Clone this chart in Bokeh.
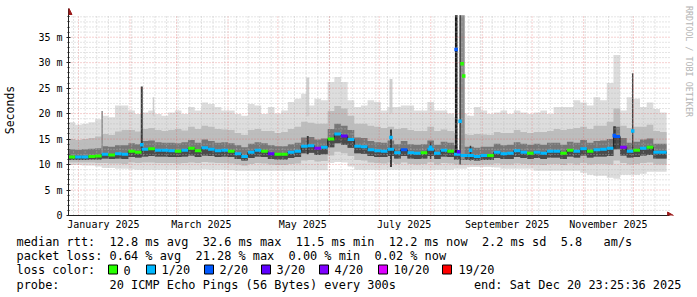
import math
import re
import pandas as pd
from bokeh.plotting import figure
from bokeh.layouts import column
from bokeh.models import (Range1d, FixedTicker, DatetimeTickFormatter,
                          PolyAnnotation, ColumnDataSource)
from bokeh.core.properties import value
from bokeh.embed import file_html
from bokeh.resources import INLINE

# ---------------- data ----------------
END_TIME = "2025-12-20 23:25:36"
SPAN_DAYS = 360
STEP_DAYS = 4
Y_TOP = 39.26  # ms at top of the drawing area

rtt_median = [11.5, 11.5, 11.5, 11.6, 11.7, 12.0, 11.9, 12.1, 12.0, 12.6,
              12.4, 13.0, 13.1, 12.8, 12.8, 12.7, 12.6, 12.8, 13.2, 12.7,
              13.3, 13.0, 12.7, 12.8, 12.6, 12.1, 11.6, 12.4, 12.8, 12.6,
              12.1, 12.0, 12.0, 12.4, 12.6, 13.6, 13.7, 13.2, 13.4, 15.0,
              16.0, 15.6, 14.9, 13.6, 13.5, 12.9, 12.7, 12.6, 13.0, 12.3,
              12.9, 12.3, 12.2, 12.3, 13.0, 12.2, 12.8, 12.6, 12.0, 11.8,
              11.8, 11.6, 11.8, 11.8, 12.4, 12.1, 12.2, 12.7, 12.4, 12.2,
              12.4, 12.2, 12.6, 12.6, 12.2, 12.8, 12.6, 13.1, 12.6, 12.9,
              13.0, 13.2, 15.5, 13.4, 12.6, 12.8, 13.2, 13.4, 12.4, 12.4]

loss_level = [0, 1, 1, 0, 0, 1, 0, 1, 1, 0,
              0, 1, 0, 1, 1, 1, 0, 1, 0, 0,
              1, 1, 1, 1, 0, 1, 1, 1, 1, 0,
              3, 0, 0, 1, 1, 1, 1, 4, 1, 0,
              1, 3, 1, 1, 1, 1, 1, 1, 1, 1,
              2, 1, 1, 0, 1, 1, 1, 0, 1, 1,
              1, 1, 1, 0, 1, 1, 1, 1, 1, 0,
              1, 1, 1, 1, 0, 0, 1, 1, 0, 1,
              1, 1, 2, 4, 1, 0, 1, 0, 1, 1]

rtt_max = [18.3, 17.8, 18.0, 18.3, 18.9, 19.6, 19.3, 21.6, 21.6, 20.6,
           19.9, 20.2, 20.6, 19.9, 19.6, 20.2, 20.6, 19.9, 21.3, 20.6,
           22.2, 21.9, 21.3, 20.6, 20.6, 19.9, 19.6, 21.9, 21.6, 19.9,
           21.3, 20.0, 20.6, 22.3, 22.9, 23.9, 21.6, 22.9, 22.6, 26.2,
           27.2, 26.2, 22.6, 21.3, 21.6, 22.6, 22.3, 20.6, 21.3, 21.3,
           21.6, 21.6, 20.6, 20.6, 22.3, 20.6, 20.6, 20.0, 19.3, 20.0,
           19.6, 21.3, 20.6, 19.9, 20.2, 20.6, 19.9, 20.6, 20.2, 19.9,
           20.2, 20.6, 19.9, 21.3, 21.3, 21.3, 22.6, 22.2, 21.6, 23.2,
           22.6, 26.0, 31.5, 20.6, 23.2, 22.9, 21.3, 22.2, 20.9, 20.2]

rtt_p90 = [15.0, 14.8, 15.0, 15.2, 15.5, 16.0, 15.8, 16.5, 16.8, 16.8,
           16.5, 17.0, 17.2, 16.8, 16.6, 16.8, 17.0, 16.7, 17.4, 17.0,
           17.6, 17.4, 17.0, 16.9, 16.8, 16.2, 15.8, 16.8, 17.0, 16.6,
           16.6, 16.2, 16.4, 17.0, 17.4, 18.4, 18.2, 18.0, 18.0, 20.5,
           21.5, 21.0, 19.6, 18.0, 18.0, 17.6, 17.4, 17.2, 17.4, 17.0,
           17.2, 16.8, 16.6, 16.6, 17.4, 16.6, 16.9, 16.6, 16.2, 16.0,
           15.8, 16.0, 15.9, 15.8, 16.4, 16.2, 16.2, 16.8, 16.4, 16.2,
           16.4, 16.4, 16.6, 17.0, 16.8, 17.0, 17.2, 17.4, 17.0, 17.6,
           17.6, 18.4, 21.0, 17.6, 17.2, 17.4, 17.4, 17.8, 16.6, 16.4]

rtt_p75 = [13.0, 12.9, 13.0, 13.1, 13.2, 13.6, 13.5, 13.8, 13.8, 14.2,
           14.0, 14.6, 14.7, 14.4, 14.3, 14.3, 14.2, 14.4, 14.8, 14.3,
           14.9, 14.6, 14.3, 14.4, 14.2, 13.8, 13.4, 14.1, 14.4, 14.2,
           13.8, 13.6, 13.6, 14.0, 14.3, 15.3, 15.4, 14.9, 15.1, 17.0,
           18.0, 17.6, 16.8, 15.3, 15.2, 14.6, 14.4, 14.3, 14.7, 14.0,
           14.6, 14.0, 13.9, 14.0, 14.7, 13.9, 14.5, 14.3, 13.8, 13.5,
           13.5, 13.3, 13.5, 13.5, 14.1, 13.8, 13.9, 14.4, 14.1, 13.9,
           14.1, 13.9, 14.3, 14.3, 13.9, 14.5, 14.3, 14.8, 14.3, 14.6,
           14.7, 15.0, 17.4, 15.2, 14.3, 14.5, 14.9, 15.1, 14.1, 14.1]

rtt_p25 = [10.9, 10.9, 10.9, 11.0, 11.0, 11.2, 11.1, 11.2, 11.1, 11.5,
           11.4, 11.6, 11.7, 11.6, 11.6, 11.5, 11.5, 11.6, 11.8, 11.5,
           11.8, 11.7, 11.5, 11.6, 11.5, 11.1, 10.8, 11.3, 11.6, 11.5,
           11.1, 11.0, 11.0, 11.3, 11.5, 12.2, 12.3, 11.9, 12.0, 13.4,
           14.2, 13.9, 13.3, 12.2, 12.1, 11.7, 11.5, 11.5, 11.7, 11.2,
           11.7, 11.2, 11.1, 11.2, 11.7, 11.1, 11.6, 11.5, 11.0, 10.9,
           10.9, 10.8, 10.9, 10.9, 11.3, 11.1, 11.1, 11.5, 11.3, 11.1,
           11.3, 11.1, 11.4, 11.4, 11.1, 11.6, 11.4, 11.8, 11.4, 11.6,
           11.6, 11.7, 13.0, 11.8, 11.4, 11.5, 11.8, 11.9, 11.2, 11.2]

rtt_p10 = [10.4, 10.4, 10.4, 10.4, 10.3, 10.3, 10.2, 10.2, 10.1, 10.4,
           10.3, 10.4, 10.4, 10.3, 10.3, 10.3, 10.2, 10.3, 10.4, 10.3,
           10.5, 10.4, 10.3, 10.3, 10.2, 10.0, 9.8, 10.1, 10.3, 10.2,
           10.0, 9.9, 9.9, 10.1, 10.2, 10.8, 10.9, 10.6, 10.7, 11.8,
           12.5, 12.2, 11.7, 10.9, 10.8, 10.4, 10.3, 10.2, 10.4, 10.1,
           10.4, 10.1, 10.0, 10.1, 10.4, 10.0, 10.3, 10.2, 10.0, 9.9,
           10.0, 9.9, 10.0, 10.0, 10.2, 10.0, 10.0, 10.2, 10.1, 10.0,
           10.0, 9.9, 10.1, 10.1, 9.9, 10.2, 10.0, 10.3, 10.0, 10.1,
           10.1, 10.0, 10.8, 10.3, 10.0, 10.1, 10.3, 10.4, 10.0, 10.0]

rtt_min = [9.9, 9.9, 9.8, 9.8, 9.6, 9.3, 9.3, 9.2, 9.2, 9.1,
           9.0, 9.0, 9.0, 9.0, 9.0, 9.0, 9.0, 9.0, 9.0, 9.0,
           9.1, 9.0, 9.0, 9.0, 8.9, 8.8, 8.8, 8.8, 8.8, 8.8,
           8.8, 8.8, 8.8, 8.8, 8.8, 8.9, 8.9, 8.9, 8.9, 10.3,
           10.5, 10.4, 9.6, 9.0, 9.0, 9.0, 9.0, 9.0, 9.0, 9.0,
           9.0, 9.0, 9.0, 9.0, 9.0, 9.0, 9.0, 9.0, 9.2, 9.2,
           9.5, 9.5, 9.5, 9.5, 9.4, 9.2, 9.2, 9.2, 9.2, 9.2,
           8.8, 8.8, 8.8, 8.8, 8.8, 8.8, 8.8, 8.4, 8.0, 7.8,
           7.8, 7.4, 7.2, 8.0, 8.0, 8.0, 8.2, 8.6, 8.6, 8.6]

# short bursts (days from the start of the graph)
burst_start = [19.8, 43.5, 50.7, 143.1, 143.4, 193.2, 193.5, 217.5, 232.6, 234.3, 235.4, 235.4, 241.5, 327.9, 339.2]
burst_end = [20.7, 44.7, 51.6, 144.9, 144.6, 195.0, 194.7, 218.4, 234.3, 235.4, 238.5, 236.0, 242.4, 329.4, 340.0]
burst_low = [12.0, 12.4, 19.5, 19.5, 12.0, 20.0, 9.5, 11.1, 11.8, 12.8, 11.0, 10.0, 10.8, 13.0, 12.1]
burst_high = [20.5, 25.3, 23.2, 27.1, 15.6, 26.8, 16.9, 14.4, 39.3, 39.3, 39.3, 39.3, 13.7, 17.5, 27.9]
burst_tone = ["mid", "dark", "light", "light", "dark", "light", "dark", "dark",
              "black", "gap", "mid", "black", "dark", "dark", "dark"]

mark_day = [44.1, 194.1, 217.9, 233.3, 234.8, 235.7, 236.9, 237.9, 242.0, 328.5, 339.6]
mark_rtt = [13.9, 15.3, 13.4, 32.6, 12.5, 18.5, 29.8, 27.4, 12.8, 15.7, 16.6]
mark_loss = [1, 1, 1, 2, 3, 1, 0, 0, 1, 2, 1]

loss_labels = ["0", "1/20", "2/20", "3/20", "4/20", "10/20", "19/20"]
loss_colors = ["#26ff00", "#00b8ff", "#0059ff", "#5e00ff", "#7e00ff", "#dd00ff", "#ff0000"]

ytick_values = [0, 5, 10, 15, 20, 25, 30, 35]
ytick_labels = ["0", "5 m", "10 m", "15 m", "20 m", "25 m", "30 m", "35 m"]
label_months = ["2025-01", "2025-03", "2025-05", "2025-07", "2025-09", "2025-11"]

stats_lines = [
    "median rtt:  12.8 ms avg  32.6 ms max  11.5 ms min  12.2 ms now  2.2 ms sd  5.8   am/s",
    "packet loss: 0.64 % avg  21.28 % max  0.00 % min  0.02 % now",
    "loss color:",
    "probe:       20 ICMP Echo Pings (56 Bytes) every 300s",
]
end_text = "end: Sat Dec 20 23:25:36 2025"
watermark = "RRDTOOL / TOBI OETIKER"

# ---------------- geometry / helpers ----------------
DAY_MS = 86_400_000
end_ms = pd.Timestamp(END_TIME).value // 1_000_000
start_ms = end_ms - SPAN_DAYS * DAY_MS


def tms(day):
    return start_ms + day * DAY_MS


W = 697
H_MAIN = 235
H_LEG = 62
FL, FR, FT, FB = 66, 697, 4, 215
PLOT_W, PLOT_H = 600, 200
x_per_px = SPAN_DAYS * DAY_MS / PLOT_W
y_per_px = Y_TOP / PLOT_H


def xpx(px):
    return start_ms + (px - FL) * x_per_px


def ypx(py):
    return (FB - py) * y_per_px


MONO = "DejaVu Sans Mono"
ARROW = "#9b1b1b"

p = figure(width=W, height=H_MAIN, x_axis_type="datetime",
           x_range=Range1d(start_ms, xpx(FR)), y_range=Range1d(0, ypx(FT)),
           output_backend="svg", toolbar_location=None,
           min_border_left=FL, min_border_right=W - FR,
           min_border_top=FT, min_border_bottom=H_MAIN - FB)
p.outline_line_color = None
p.background_fill_color = "white"
p.border_fill_color = "white"
p.xgrid.visible = False
p.ygrid.visible = False

# ---------------- smoke ----------------
n = len(rtt_median)
edges = [tms(i * STEP_DAYS) for i in range(n + 1)]


def ext(a):
    return list(a) + [a[-1]]


smoke = ColumnDataSource(dict(x=edges, mn=ext(rtt_min), mx=ext(rtt_max),
                              p10=ext(rtt_p10), p90=ext(rtt_p90),
                              p25=ext(rtt_p25), p75=ext(rtt_p75), med=ext(rtt_median)))
for lo, hi, col in [("mn", "mx", "#dddddd"), ("p10", "p90", "#bdbdbd"),
                    ("p25", "p75", "#777777"), ("p25", "med", "#4a4a4a")]:
    p.varea_step(x="x", y1=lo, y2=hi, step_mode="after", source=smoke,
                 fill_color=col, level="image")

tone_color = {"light": "#cfcfcf", "mid": "#8e8e8e", "dark": "#3a3a3a",
              "black": "#1a1a1a", "gap": "#ffffff"}
p.quad(left=[tms(d) for d in burst_start], right=[tms(d) for d in burst_end],
       bottom=burst_low, top=burst_high,
       fill_color=[tone_color[t] for t in burst_tone], line_color=None, level="image")

# ---------------- grid (dotted, limited to the graph area) ----------------
month_ticks = [pd.Timestamp(f"2025-{m:02d}-01").value // 1_000_000 for m in range(1, 13)]
week_ticks = [ts.value // 1_000_000 for ts in pd.date_range("2024-12-29", "2025-12-20", freq="7D")]
minor_y = [v for v in range(1, 40) if v % 5]
major_y = [v for v in range(5, 40, 5)]
GRID_TOP = Y_TOP + 0.2
GRID_RIGHT = xpx(669)

for ticks, col, alpha in [(week_ticks, "#b8b8b8", 0.75), (month_ticks, "#e06060", 0.6)]:
    p.segment(x0=ticks, x1=ticks, y0=[0] * len(ticks), y1=[GRID_TOP] * len(ticks),
              line_color=col, line_alpha=alpha, line_dash="1 2", line_width=1, level="underlay")
for ticks, col, alpha in [(minor_y, "#b8b8b8", 0.75), (major_y, "#e06060", 0.6)]:
    p.segment(x0=[start_ms] * len(ticks), x1=[GRID_RIGHT] * len(ticks), y0=ticks, y1=ticks,
              line_color=col, line_alpha=alpha, line_dash="1 2", line_width=1, level="underlay")

# ---------------- median ----------------
p.step(x=edges, y=ext(rtt_median), mode="after", line_color="#202020", line_width=1)
p.segment(x0=edges[:-1], x1=edges[1:], y0=rtt_median, y1=rtt_median,
          line_color=[loss_colors[k] for k in loss_level], line_width=3)
p.scatter(x=[tms(d) for d in mark_day], y=mark_rtt, marker="square", size=3.5,
          fill_color=[loss_colors[k] for k in mark_loss], line_color=None)

# ---------------- axes ----------------
xa = p.xaxis[0]
xa.ticker = FixedTicker(ticks=[(pd.Timestamp(m + "-01") + pd.Timedelta(days=15)).value // 1_000_000
                               for m in label_months], minor_ticks=[])
fmt = "%B %Y"
xa.formatter = DatetimeTickFormatter(days=fmt, months=fmt, years=fmt, hours=fmt,
                                     hourmin=fmt, minutes=fmt, minsec=fmt, seconds=fmt,
                                     milliseconds=fmt, microseconds=fmt)
xa.major_tick_line_color = None
xa.minor_tick_line_color = None
xa.major_tick_out = 0
xa.major_tick_in = 0
xa.minor_tick_out = 0
xa.axis_line_color = "#202020"
xa.bounds = (start_ms, xpx(669))
xa.major_label_standoff = 3
xa.major_label_text_font = MONO
xa.major_label_text_font_size = "10px"
xa.major_label_text_color = "#000000"

ya = p.yaxis[0]
ya.ticker = FixedTicker(ticks=ytick_values, minor_ticks=list(range(0, 40)))
ya.major_label_overrides = {v: s for v, s in zip(ytick_values, ytick_labels)}
ya.bounds = (0, ypx(8))
ya.axis_line_color = "#202020"
ya.major_tick_line_color = "#202020"
ya.minor_tick_line_color = "#202020"
ya.major_tick_in = 2
ya.major_tick_out = 2
ya.minor_tick_in = 1
ya.minor_tick_out = 1
ya.major_label_standoff = 4
ya.major_label_text_font = MONO
ya.major_label_text_font_size = "10px"
ya.major_label_text_color = "#000000"
ya.axis_label = "Seconds"
ya.axis_label_text_font = MONO
ya.axis_label_text_font_size = "11.5px"
ya.axis_label_text_font_style = "normal"
ya.axis_label_text_color = "#000000"
ya.axis_label_standoff = 18

# arrow heads
p.add_layout(PolyAnnotation(xs=[xpx(63.5), xpx(69.5), xpx(66.5)], ys=[ypx(14), ypx(14), ypx(8)],
                            fill_color=ARROW, fill_alpha=1, line_color=ARROW, line_alpha=1))
p.add_layout(PolyAnnotation(xs=[xpx(667), xpx(667), xpx(673)], ys=[ypx(211.5), ypx(218.5), ypx(215)],
                            fill_color=ARROW, fill_alpha=1, line_color=ARROW, line_alpha=1))

# vertical watermark at the right edge
p.text(x=[xpx(688)], y=[ypx(61)], text=[watermark], angle=-math.pi / 2,
       text_align="center", text_baseline="middle", text_font=value(MONO),
       text_font_size="8.4px", text_color="#b4b4b4")

# ---------------- legend block (pixel coordinates, y downward) ----------------
leg = figure(width=W, height=H_LEG, x_range=Range1d(0, W), y_range=Range1d(H_LEG, 0),
             output_backend="svg", toolbar_location=None, min_border=0,
             x_axis_location=None, y_axis_location=None)
leg.outline_line_color = None
leg.grid.visible = False
leg.background_fill_color = "white"
leg.border_fill_color = "white"
for fig in (p, leg):
    if "frame_align" in fig.properties():
        fig.frame_align = False

FS = "11.9px"
CW = 7.16          # character advance of the legend font
TX = 16
LINE_Y = [6, 20.5, 34.5, 49]

tx, ty, tt = [], [], []
for line, yy in zip(stats_lines, LINE_Y):
    for m in re.finditer(r"\S+(?: \S+)*", line):
        tx.append(TX + m.start() * CW)
        ty.append(yy)
        tt.append(m.group())
leg.text(x=tx, y=ty, text=tt, text_font=value(MONO), text_font_size=FS,
         text_baseline="middle", text_align="left", text_color="#000000")
leg.text(x=[681], y=[LINE_Y[3]], text=[end_text], text_font=value(MONO), text_font_size=FS,
         text_baseline="middle", text_align="right", text_color="#000000")

box_x = [108, 146, 204, 261, 319, 378, 442]
lab_x = [123, 161, 219, 276, 334, 393, 458]
leg.quad(left=box_x, right=[b + 9 for b in box_x],
         top=[LINE_Y[2] - 5] * len(box_x), bottom=[LINE_Y[2] + 4] * len(box_x),
         fill_color=loss_colors, line_color="#000000", line_width=1)
leg.text(x=lab_x, y=[LINE_Y[2]] * len(lab_x), text=loss_labels, text_font=value(MONO),
         text_font_size=FS, text_baseline="middle", text_align="left", text_color="#000000")

layout = column(p, leg, spacing=0)
open("out.html", "w").write(file_html(layout, INLINE))
